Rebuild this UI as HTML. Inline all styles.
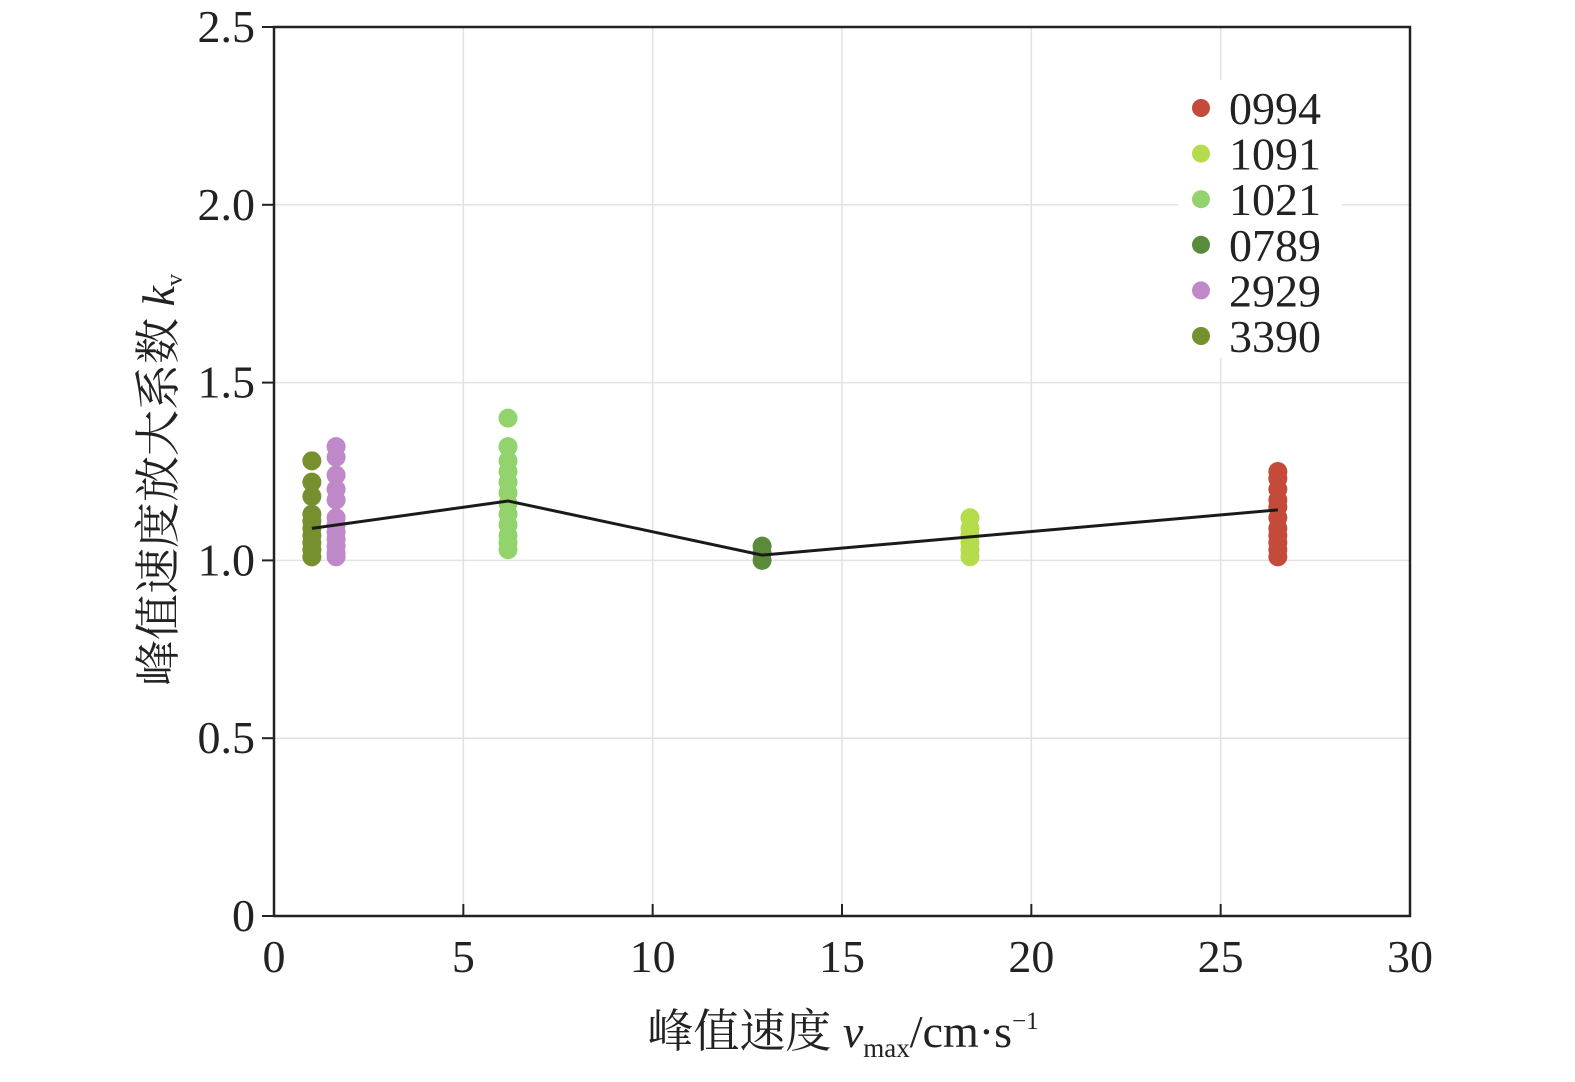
<!DOCTYPE html>
<html><head><meta charset="utf-8"><style>
body{margin:0;background:#fff}
svg text{font-family:"Liberation Serif","Noto Serif CJK SC",serif;fill:#222}
</style></head><body>
<svg id="chart" width="1575" height="1077" xmlns="http://www.w3.org/2000/svg">
<g id="grid"></g>
<rect x="274" y="27" width="1136" height="889" fill="none" stroke="#222" stroke-width="2.5"/>
<g id="axes"></g>
<g id="marks"></g>
<g id="legend"></g>
<text transform="translate(174,480) rotate(-90)" text-anchor="middle" font-size="46">峰值速度放大系数 <tspan font-style="italic">k</tspan><tspan font-size="24" dy="8">v</tspan></text>
<text x="843" y="1047" text-anchor="middle" font-size="46">峰值速度 <tspan font-style="italic">v</tspan><tspan font-size="27" dy="10">max</tspan><tspan dy="-10">/cm·s</tspan><tspan font-size="25" dy="-18">−1</tspan></text>
</svg>
<script>
const seriesNames=["0994","1091","1021","0789","2929","3390"];
const seriesColors=["#c44a3a","#b5dc4a","#92d36e","#5a8a3c","#bf88c8","#76902f"];
const seriesX=[26.51,18.38,6.18,12.89,1.64,1.0];
const s0994=[1.25,1.23,1.20,1.17,1.15,1.12,1.09,1.07,1.05,1.03,1.01];
const s1091=[1.12,1.09,1.07,1.05,1.03,1.01];
const s1021=[1.40,1.32,1.28,1.25,1.22,1.19,1.16,1.13,1.10,1.07,1.05,1.03];
const s0789=[1.04,1.02,1.00];
const s2929=[1.32,1.29,1.24,1.20,1.17,1.12,1.10,1.08,1.06,1.04,1.02,1.01];
const s3390=[1.28,1.22,1.18,1.13,1.11,1.09,1.07,1.05,1.03,1.01];
const lineX=[1.0,6.18,12.89,26.51];
const lineY=[1.09,1.167,1.015,1.142];
const xTicks=[0,5,10,15,20,25,30];
const yTicks=[0,0.5,1.0,1.5,2.0,2.5];
const yTickLabels=["0","0.5","1.0","1.5","2.0","2.5"];
const NS="http://www.w3.org/2000/svg";
const X=v=>274+v*1136/30, Y=v=>916-v*889/2.5;
function mk(t,a,p){const e=document.createElementNS(NS,t);for(const k in a)e.setAttribute(k,a[k]);p.appendChild(e);return e;}
const grid=document.getElementById('grid'),axes=document.getElementById('axes'),marks=document.getElementById('marks'),legend=document.getElementById('legend');
xTicks.forEach(v=>{
  const g=mk('line',{x1:X(v),x2:X(v),y1:27,y2:916,stroke:'#e2e2e2','stroke-width':1.5},grid);
  
  
  const t=mk('line',{x1:X(v),x2:X(v),y1:916,y2:904,stroke:'#222','stroke-width':2},axes);
  
  
  const l=mk('text',{x:X(v),y:972,'text-anchor':'middle','font-size':46},axes);
  l.textContent=v;
  
  
});
yTicks.forEach((v,i)=>{
  const g=mk('line',{x1:274,x2:1410,y1:Y(v),y2:Y(v),stroke:'#e2e2e2','stroke-width':1.5},grid);
  
  
  const t=mk('line',{x1:262,x2:274,y1:Y(v),y2:Y(v),stroke:'#222','stroke-width':2},axes);
  
  
  const l=mk('text',{x:255,y:Y(v)+15,'text-anchor':'end','font-size':46},axes);
  l.textContent=yTickLabels[i];
  
  
});
const allSeries=[s0994,s1091,s1021,s0789,s2929,s3390];
allSeries.forEach((arr,si)=>{
  arr.forEach(v=>{
    const c=mk('circle',{cx:X(seriesX[si]),cy:Y(v),r:9.5,fill:seriesColors[si]},marks);
    
    
  });
});
const pl=mk('polyline',{points:lineX.map((x,i)=>X(x)+','+Y(lineY[i])).join(' '),fill:'none',stroke:'#1a1a1a','stroke-width':3},marks);


const bg=mk('rect',{x:1178,y:80,width:164,height:278,fill:'#fff'},legend);


seriesNames.forEach((n,i)=>{
  const y=108+i*45.6;
  const d=mk('circle',{cx:1201,cy:y,r:9,fill:seriesColors[i]},legend);
  
  
  const t=mk('text',{x:1229,y:y+16,'font-size':46},legend);
  t.textContent=n;
  
  
});
</script>
</body></html>
